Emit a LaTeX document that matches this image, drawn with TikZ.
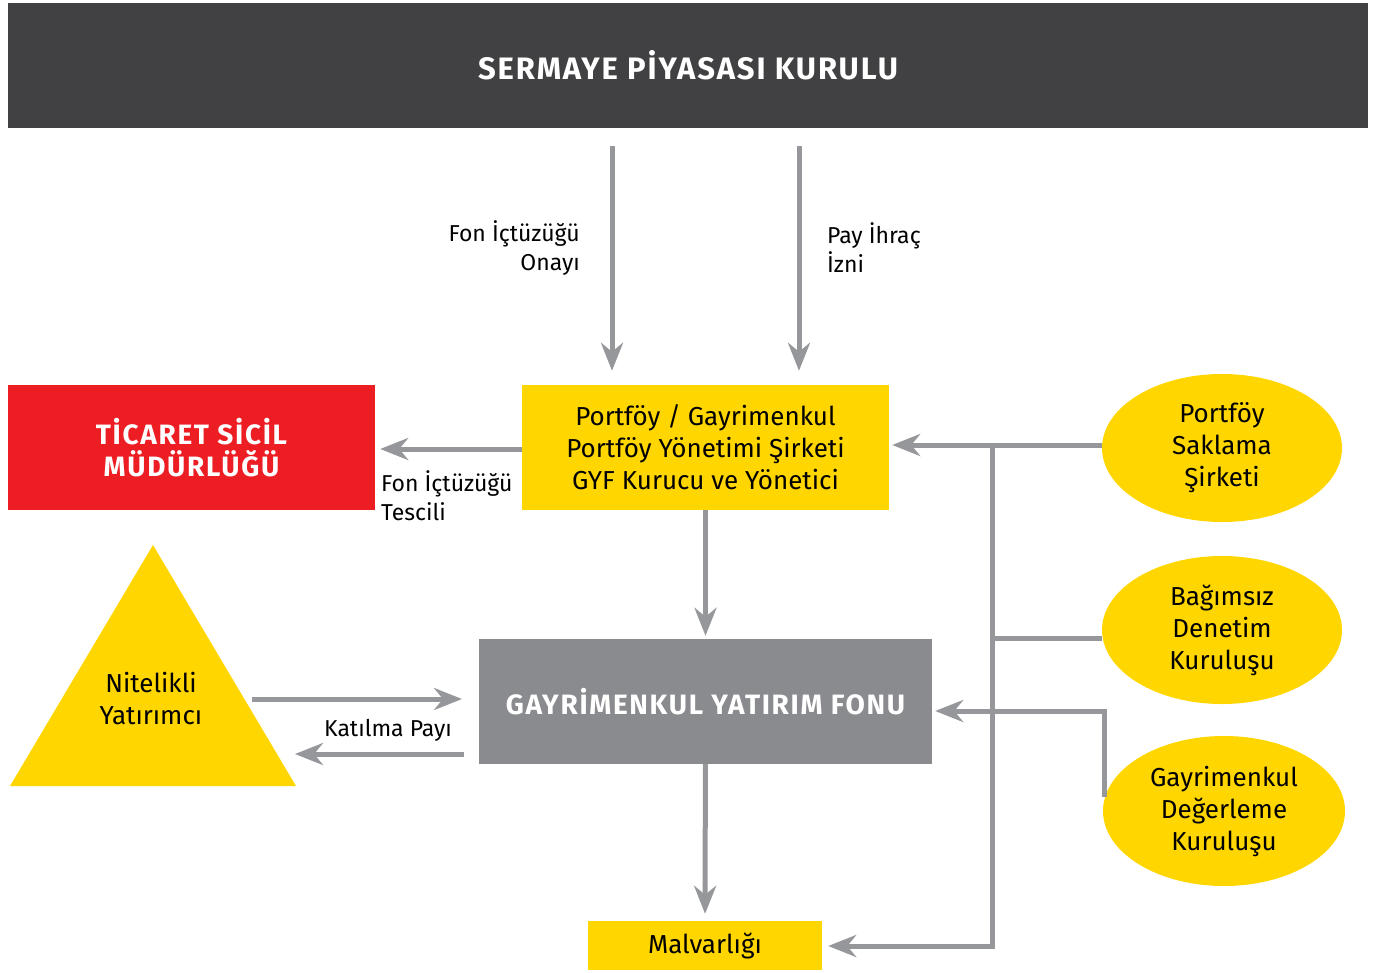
\documentclass[tikz,border=0pt]{standalone}
\usepackage{fontspec}
\setmainfont{Fira Sans}
\newfontfamily\capsfont[LetterSpace=6]{Fira Sans}
\usetikzlibrary{arrows.meta,positioning,calc,shapes.geometric}

\definecolor{spkgray}{RGB}{65,64,66}
\definecolor{fundgray}{RGB}{138,139,142}
\definecolor{flowgray}{RGB}{150,151,155}
\definecolor{gyfyellow}{RGB}{255,214,0}
\definecolor{registryred}{RGB}{237,29,36}

\tikzset{
  flow/.style={flowgray,line width=5pt,
    -{Stealth[length=28pt,width=22pt,inset=9pt]}},
  bus/.style={flowgray,line width=5pt},
  yellowbox/.style={fill=gyfyellow,font=\fontsize{26}{32}\selectfont},
  capsbox/.style={text=white,font=\capsfont\bfseries\fontsize{28}{32}\selectfont},
  agent/.style={ellipse,fill=gyfyellow,inner sep=0pt,align=center,
    minimum width=240pt,minimum height=148pt,
    font=\fontsize{26}{32}\selectfont},
  sidenote/.style={inner sep=0pt,font=\fontsize{23}{29}\selectfont}
}

\begin{document}
\begin{tikzpicture}[x=1pt,y=-1pt,line cap=butt,line join=miter]
    \useasboundingbox (0,0) rectangle (1373,972);

    % Kurul ve kurumlar
    \node[capsbox,font=\capsfont\bfseries\fontsize{31}{32}\selectfont,
        fill=spkgray,minimum width=1360pt,minimum height=125pt]
        (spk) at (688,65.5) {SERMAYE PİYASASI KURULU};
    \node[yellowbox,align=center,minimum width=367pt,minimum height=125pt]
        (manager) at (705.5,447.5)
        {Portföy / Gayrimenkul\\Portföy Yönetimi Şirketi\\GYF Kurucu ve Yönetici};
    \node[capsbox,fill=registryred,align=center,minimum width=367pt,minimum height=125pt]
        (registry) at (191.5,447.5) {TİCARET SİCİL\\MÜDÜRLÜĞÜ};
    \node[capsbox,fill=fundgray,minimum width=453pt,minimum height=125pt]
        (fund) at (705.5,701.5) {GAYRİMENKUL YATIRIM FONU};
    \node[yellowbox,minimum width=234pt,minimum height=49pt]
        (assets) at (705,945.5) {Malvarlığı};

    % Nitelikli yatırımcı üçgeni
    \fill[gyfyellow] (153,545) -- (296,786) -- (10,786) -- cycle;
    \node[align=center,font=\fontsize{26}{32}\selectfont]
        (investor) at (151,699) {Nitelikli\\Yatırımcı};

    % Yan kuruluşlar
    \node[agent] (custodian) at (1222,448) {Portföy\\Saklama\\Şirketi};
    \node[agent] (auditor) at (1222,630) {Bağımsız\\Denetim\\Kuruluşu};
    \node[agent,minimum width=242pt,minimum height=150pt]
        (appraiser) at (1224,811) {Gayrimenkul\\Değerleme\\Kuruluşu};

    % SPK onayları
    \coordinate (approvalTop) at (612,146);
    \coordinate (issueTop) at (799,146);
    \draw[flow,shorten >=14pt] (approvalTop) -- (approvalTop |- manager.north);
    \draw[flow,shorten >=14pt] (issueTop) -- (issueTop |- manager.north);
    \node[sidenote,align=right,anchor=east] (approvalText) at (580,248)
        {Fon İçtüzüğü\\Onayı};
    \node[sidenote,align=left,anchor=west] (issueText) at (827,248)
        {Pay İhraç\\İzni};

    % Tescil
    \draw[flow,shorten >=5pt] (manager.west |- 0,449) -- (registry.east |- 0,449);
    \node[sidenote,align=left,anchor=west] (registryText) at (381,496)
        {Fon İçtüzüğü\\Tescili};

    % Yönetici -> fon -> malvarlığı
    \draw[flow,shorten >=3pt] (manager) -- (fund);
    \draw[flow,shorten >=7pt] (fund) -- (assets);

    % Katılma payı
    \coordinate (investIn) at (252,699);
    \coordinate (shareOut) at (464,754);
    \draw[flow] (investIn) -- (462,699);
    \draw[flow] (shareOut) -- (295,754);
    \node[sidenote] (shareText) at (388,730) {Katılma Payı};

    % Yan kuruluşların bağlantıları
    \coordinate (busTop) at (992,445);
    \coordinate (busBottom) at (992,946);
    \draw[flow,shorten >=3pt] (custodian.west |- busTop) -- (manager.east |- busTop);
    \draw[bus] (busTop) -- (busBottom);
    \draw[flow,shorten >=6pt] ([xshift=2.5pt]busBottom) -- (assets.east |- busBottom);
    \draw[bus] (auditor.west |- 0,638) -- (992,638);
    \draw[flow,shorten >=3pt] (1104,797) -- (1104,711) -- (fund.east |- 0,711);
\end{tikzpicture}
\end{document}
